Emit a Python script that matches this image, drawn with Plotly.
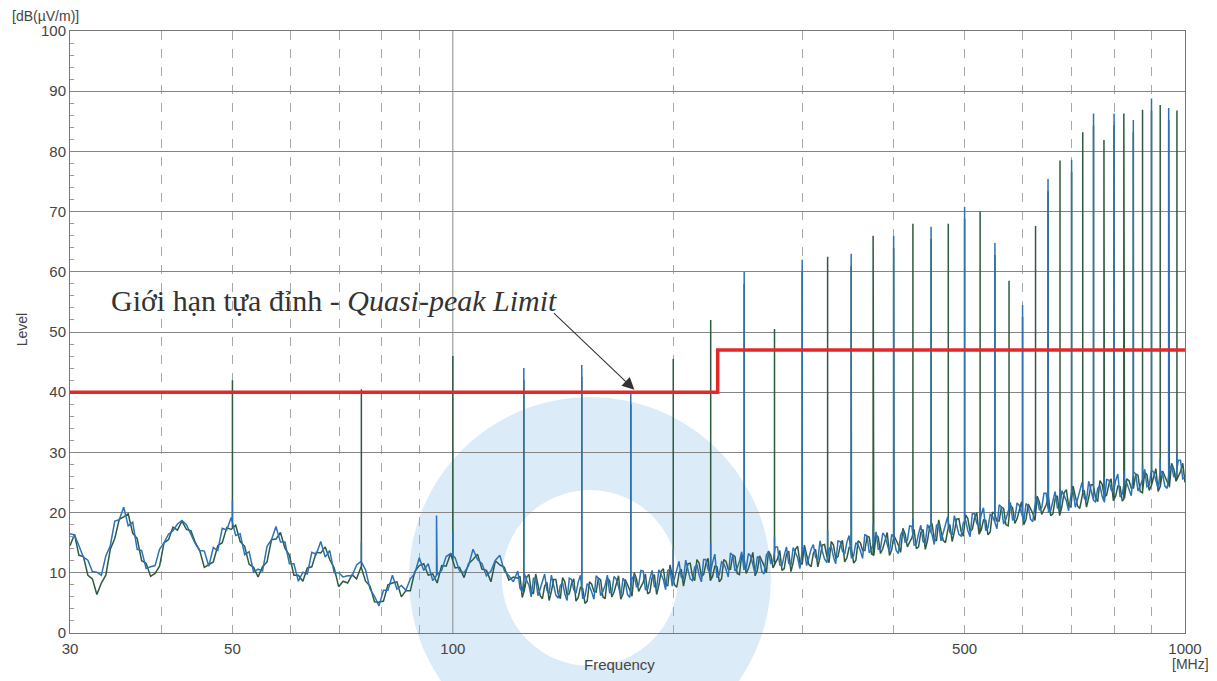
import numpy as np
import plotly.graph_objects as go

# ---------------- data ----------------
# Noise floor, read at 250 log-spaced sweep points from 30 MHz to 1000 MHz
blue_levels = [
    16.5, 16.3, 14.5, 12.6, 12.1, 10.2, 10.1, 9.6, 12.8, 14.5,
    18.6, 18.8, 20.9, 17.8, 18.4, 13.9, 13.7, 10.7, 11.0, 11.2,
    13.9, 15.0, 16.4, 17.0, 18.1, 18.7, 18.0, 16.3, 14.8, 13.7,
    13.6, 11.1, 14.2, 13.7, 17.4, 17.1, 19.2, 16.2, 16.5, 13.0,
    13.5, 10.1, 10.6, 10.3, 14.4, 15.5, 17.7, 15.1, 15.1, 11.5,
    11.5, 8.6, 10.1, 9.8, 13.4, 13.1, 15.2, 12.6, 13.7, 10.0,
    10.0, 9.3, 9.5, 9.5, 11.3, 11.9, 10.5, 7.3, 6.1, 4.5,
    7.1, 7.1, 9.6, 7.3, 7.9, 7.1, 9.0, 9.9, 12.5, 10.4,
    11.5, 8.7, 9.7, 10.4, 12.7, 13.2, 12.5, 10.3, 10.0, 11.2,
    13.9, 12.2, 11.5, 9.5, 10.3, 12.1, 12.9, 10.3, 9.5, 8.5,
    10.3, 6.9, 8.7, 6.0, 9.1, 7.3, 9.8, 6.5, 7.9, 5.8,
    8.4, 5.4, 8.9, 6.6, 9.6, 6.1, 7.8, 5.6, 9.1, 6.9,
    9.6, 6.8, 8.9, 6.1, 8.5, 5.9, 9.6, 8.0, 10.3, 7.3,
    10.4, 7.4, 9.6, 7.2, 10.6, 9.1, 11.9, 8.9, 10.5, 8.7,
    11.4, 8.5, 12.2, 10.0, 13.1, 9.7, 11.5, 9.3, 12.9, 10.8,
    13.5, 10.7, 12.8, 9.9, 12.4, 9.8, 13.5, 11.9, 14.3, 11.2,
    14.3, 11.2, 13.3, 10.7, 13.9, 12.5, 14.7, 12.1, 13.6, 11.7,
    14.4, 11.5, 15.2, 13.1, 16.2, 12.8, 14.6, 12.4, 16.1, 14.0,
    16.8, 14.0, 16.1, 13.4, 15.8, 13.2, 17.0, 15.4, 17.7, 14.8,
    17.9, 14.9, 17.1, 14.7, 18.1, 16.5, 19.3, 16.3, 17.9, 16.1,
    18.8, 16.0, 19.8, 17.7, 20.8, 17.5, 19.4, 17.3, 20.9, 18.9,
    21.7, 19.0, 21.2, 18.5, 21.0, 18.5, 22.3, 20.8, 23.2, 20.3,
    23.5, 20.5, 22.7, 20.3, 23.7, 22.2, 25.0, 22.0, 23.6, 21.8,
    24.5, 21.7, 25.4, 23.3, 26.4, 23.1, 24.9, 22.8, 26.4, 24.4,
    27.2, 24.5, 26.7, 24.0, 26.5, 24.0, 27.8, 26.3, 28.7, 25.8,
]
green_levels = [
    14.5, 16.4, 12.9, 12.7, 9.6, 9.0, 6.4, 8.3, 9.6, 13.9,
    15.7, 18.9, 19.3, 19.8, 16.6, 15.7, 12.0, 11.6, 9.4, 9.9,
    11.1, 15.0, 15.5, 17.6, 17.1, 18.6, 17.2, 17.0, 15.0, 13.6,
    10.9, 11.4, 11.8, 14.5, 15.0, 17.5, 17.2, 17.9, 15.2, 14.4,
    11.4, 10.9, 9.3, 11.0, 11.8, 15.5, 15.6, 16.7, 14.1, 12.9,
    9.6, 9.6, 8.6, 10.8, 11.0, 13.4, 13.3, 14.3, 12.2, 10.8,
    7.7, 8.6, 8.3, 9.7, 9.0, 11.0, 8.6, 7.8, 5.2, 5.1,
    5.3, 8.0, 8.3, 8.5, 6.0, 7.0, 7.0, 10.2, 11.2, 11.5,
    9.6, 9.8, 8.3, 11.2, 11.1, 13.2, 10.8, 10.9, 9.2, 11.5,
    12.2, 13.1, 10.6, 10.4, 8.5, 12.0, 11.3, 10.9, 8.8, 9.3,
    9.1, 5.9, 9.3, 6.9, 9.8, 6.2, 7.8, 5.4, 8.9, 6.6,
    9.2, 6.3, 8.2, 5.3, 7.6, 4.9, 8.5, 6.9, 9.1, 6.0,
    9.1, 6.0, 8.1, 5.6, 8.9, 7.3, 10.0, 6.9, 8.4, 6.5,
    9.2, 6.4, 10.2, 8.1, 11.3, 8.0, 9.9, 7.8, 11.5, 9.5,
    12.2, 9.4, 11.5, 8.7, 11.1, 8.5, 12.2, 10.6, 13.0, 9.9,
    13.0, 9.9, 12.0, 9.5, 12.8, 11.2, 13.6, 10.8, 12.3, 10.4,
    13.1, 10.2, 13.9, 11.7, 14.6, 11.4, 13.2, 11.0, 14.6, 12.5,
    15.2, 12.4, 14.5, 11.8, 14.2, 11.6, 15.3, 13.7, 16.1, 13.1,
    16.3, 13.2, 15.3, 12.9, 16.2, 14.6, 17.4, 14.3, 15.8, 14.0,
    16.7, 13.9, 17.7, 15.6, 18.8, 15.4, 17.3, 15.2, 18.9, 16.9,
    19.6, 16.9, 19.1, 16.4, 18.8, 16.3, 20.1, 18.6, 20.9, 18.0,
    21.2, 18.2, 20.4, 18.0, 21.4, 19.9, 22.7, 19.7, 21.3, 19.5,
    22.3, 19.5, 23.3, 21.2, 24.4, 21.1, 23.0, 20.9, 24.6, 22.6,
    25.3, 22.6, 24.7, 22.0, 24.4, 21.9, 25.6, 24.1, 26.4, 23.5,
    26.7, 23.7, 25.9, 23.5, 26.9, 25.4, 28.2, 25.2, 26.8, 25.0,
]
# Extra readings between sweep points 100..249 (125 MHz upward, denser band)
blue_mid_levels = [
    7.4, 9.8, 7.9, 9.1, 6.2, 8.6, 7.1, 9.6, 6.3, 7.9,
    6.5, 9.1, 7.2, 8.5, 5.7, 8.2, 6.8, 9.5, 6.2, 7.9,
    6.7, 9.4, 7.7, 9.1, 6.4, 9.0, 7.7, 10.4, 7.2, 9.0,
    7.7, 10.5, 8.9, 10.4, 7.8, 10.5, 9.3, 12.1, 9.0, 10.9,
    9.6, 12.2, 10.5, 11.7, 9.2, 11.8, 10.6, 13.3, 10.3, 11.9,
    10.6, 13.2, 11.5, 12.7, 10.2, 12.9, 11.6, 14.3, 11.3, 12.9,
    11.6, 14.2, 12.5, 13.7, 11.2, 13.9, 12.6, 15.3, 12.3, 13.9,
    12.6, 15.3, 13.6, 15.1, 12.4, 15.0, 13.7, 16.4, 13.3, 15.1,
    13.9, 16.6, 14.9, 16.4, 13.7, 16.3, 15.1, 17.8, 14.6, 16.5,
    15.2, 18.0, 16.4, 17.9, 15.3, 17.9, 16.7, 19.5, 16.4, 18.3,
    17.0, 19.8, 18.2, 19.7, 17.0, 19.7, 18.5, 21.3, 18.1, 20.0,
    18.8, 21.6, 20.0, 21.5, 18.9, 21.6, 20.4, 23.2, 20.1, 22.0,
    20.8, 23.6, 22.0, 23.5, 20.9, 23.6, 22.4, 25.2, 22.1, 24.0,
    22.7, 25.5, 23.8, 25.3, 22.6, 25.3, 24.0, 26.8, 23.6, 25.5,
    24.3, 27.1, 25.5, 27.0, 24.4, 27.1, 25.9, 28.7, 25.6,
]
green_mid_levels = [
    9.4, 7.2, 9.7, 6.5, 7.9, 5.7, 8.4, 6.9, 8.9, 5.7,
    8.5, 6.5, 9.0, 5.9, 7.4, 5.3, 8.1, 6.8, 8.8, 5.7,
    8.7, 6.8, 9.5, 6.5, 8.1, 6.1, 9.0, 7.7, 9.8, 6.8,
    9.7, 7.9, 10.7, 7.8, 9.5, 7.6, 10.6, 9.4, 11.6, 8.7,
    11.6, 9.7, 12.4, 9.4, 11.0, 9.0, 11.9, 10.6, 12.7, 9.7,
    12.6, 10.7, 13.4, 10.4, 12.0, 10.0, 12.9, 11.6, 13.7, 10.7,
    13.6, 11.7, 14.4, 11.4, 13.0, 11.0, 13.9, 12.6, 14.7, 11.7,
    14.6, 12.7, 15.4, 12.5, 14.1, 12.1, 15.0, 13.7, 15.9, 12.9,
    15.9, 14.0, 16.7, 13.8, 15.4, 13.4, 16.4, 15.1, 17.2, 14.3,
    17.2, 15.4, 18.2, 15.3, 17.0, 15.0, 18.0, 16.8, 19.0, 16.1,
    19.0, 17.2, 20.0, 17.1, 18.7, 16.8, 19.8, 18.6, 20.7, 17.8,
    20.8, 19.0, 21.8, 18.9, 20.6, 18.7, 21.7, 20.5, 22.7, 19.8,
    22.8, 21.0, 23.8, 20.9, 22.6, 20.7, 23.7, 22.5, 24.7, 21.8,
    24.7, 22.9, 25.6, 22.7, 24.3, 22.4, 25.3, 24.1, 26.2, 23.3,
    26.3, 24.5, 27.3, 24.4, 26.1, 24.2, 27.2, 26.0, 28.2,
]

# Harmonic spikes (MHz) and their peak levels for each trace
spike_freqs = [50, 75, 100, 125, 150, 175, 200, 225, 250, 275, 300, 325, 350,
               375, 400, 425, 450, 475, 500, 525, 550, 575, 600, 625, 650, 675,
               700, 725, 750, 775, 800, 825, 850, 875, 900, 925, 950, 975]
green_spike_peaks = [42, 40.5, 46, 42, 42.5, 38, 45.5, 52, 58, 50.5, 60, 62.5, 61,
                     66, 64, 68, 65.5, 68, 68.8, 70, 62.8, 58.5, 52.5, 67.6, 73.4, 78.5,
                     76.6, 83.2, 84.3, 81.9, 84.3, 86.3, 83.2, 86.9, 86.8, 87.7, 85.2, 86.8]
blue_spike_peaks = [22, 15, 17, 44, 44.5, 40, 14, 15, 60, 16, 62, 17, 63,
                    18, 66, 19, 67.5, 19, 70.8, 21, 64.8, 22, 54.5, 23, 75.4, 24,
                    78.6, 25, 86.3, 26, 86.3, 27, 85.2, 28, 88.8, 29, 87.2, 30]
extra_blue_spike_freqs = [95]
extra_blue_spike_peaks = [19.5]

# Quasi-peak limit (step at 230 MHz)
limit_freqs = [30, 230, 230, 1000]
limit_levels = [40, 40, 47, 47]

x_tick_vals = [30, 50, 100, 500, 1000]
x_dash_grid = [40, 50, 60, 70, 80, 90, 200, 300, 400, 500, 600, 700, 800, 900]

# ---------------- build traces ----------------
sweep = np.geomspace(30, 1000, len(blue_levels))
mid_sweep = np.sqrt(sweep[100:-1] * sweep[101:])


def with_spikes(levels, mids, sf, sp):
    fx = np.concatenate([sweep, mid_sweep])
    fy = np.concatenate([np.asarray(levels, float), np.asarray(mids, float)])
    order = np.argsort(fx)
    fx, fy = fx[order], fy[order]
    floor = np.interp(np.log10(sf), np.log10(fx), fy)
    events = [(f, 0, (lv,)) for f, lv in zip(fx, fy)]
    events += [(f, 1, (fl, pk, fl)) for f, fl, pk in zip(sf, floor, sp)]
    events.sort(key=lambda e: (e[0], e[1]))
    xs, ys = [], []
    for f, _, vals in events:
        for v in vals:
            xs.append(f)
            ys.append(v)
    return xs, ys


gx, gy = with_spikes(green_levels, green_mid_levels, spike_freqs, green_spike_peaks)
bx, by = with_spikes(blue_levels, blue_mid_levels,
                     spike_freqs + extra_blue_spike_freqs,
                     blue_spike_peaks + extra_blue_spike_peaks)

fig = go.Figure()
fig.add_trace(go.Scatter(x=gx, y=gy, mode="lines",
                         line=dict(color="#2e5a40", width=1.5), showlegend=False))
fig.add_trace(go.Scatter(x=bx, y=by, mode="lines",
                         line=dict(color="#2c72b4", width=1.5), showlegend=False))
fig.add_trace(go.Scatter(x=limit_freqs, y=limit_levels, mode="lines",
                         line=dict(color="#e22828", width=3.5), showlegend=False))

# ---------------- watermark (light logo ring) ----------------
fig.add_shape(type="circle", xref="paper", yref="paper", layer="below",
              x0=0.304, x1=0.6287, y0=-0.2093, y1=0.392,
              fillcolor="rgba(200,225,245,0.65)", line=dict(width=0))
fig.add_shape(type="circle", xref="paper", yref="paper", layer="below",
              x0=0.3874, x1=0.5453, y0=-0.0548, y1=0.2375,
              fillcolor="white", line=dict(width=0))

# solid decade gridline at 100 MHz
fig.add_shape(type="line", xref="x", yref="y", x0=100, x1=100, y0=0, y1=100,
              layer="below", line=dict(color="#8a8a8a", width=1))

tick_font = dict(family="Liberation Sans, Arial, sans-serif", size=15, color="#444")

# the page body adds an 8 px offset; figure size and margins compensate for it
fig.update_layout(
    width=1209, height=673,
    margin=dict(l=62, r=32, t=23, b=48),
    paper_bgcolor="white", plot_bgcolor="rgba(0,0,0,0)",
    xaxis=dict(
        type="log", range=[np.log10(30), np.log10(1000)],
        tickmode="array", tickvals=x_tick_vals,
        ticktext=[str(v) for v in x_tick_vals],
        showgrid=False, zeroline=False,
        showline=True, linecolor="#777", linewidth=1, mirror=True,
        ticks="", tickfont=tick_font, ticklabelstandoff=2,
        minor=dict(tickmode="array", tickvals=x_dash_grid, showgrid=True,
                   gridcolor="#a8a8a8", griddash="dash", gridwidth=1, ticks=""),
    ),
    yaxis=dict(
        range=[0, 100], tickmode="linear", dtick=10,
        showgrid=True, gridcolor="#858585", gridwidth=1, zeroline=False,
        showline=True, linecolor="#777", linewidth=1, mirror=True,
        ticks="", tickfont=tick_font,
        minor=dict(dtick=2, ticks="inside", ticklen=4, tickcolor="#999",
                   showgrid=False),
    ),
)

ann_font = dict(family="Liberation Sans, Arial, sans-serif", size=14, color="#444")
fig.add_annotation(text="[dB(µV/m)]", xref="paper", yref="paper",
                   x=-0.0538, y=1.0257, xanchor="left", yanchor="middle",
                   showarrow=False, font=dict(ann_font, size=14))
fig.add_annotation(text="Level", xref="paper", yref="paper",
                   x=-0.043, y=0.503, textangle=-90, xanchor="center",
                   yanchor="middle", showarrow=False, font=ann_font)
fig.add_annotation(text="Frequency", xref="paper", yref="paper",
                   x=0.493, y=-0.053, xanchor="center", yanchor="middle",
                   showarrow=False, font=dict(ann_font, size=15))
fig.add_annotation(text="[MHz]", xref="paper", yref="paper",
                   x=1.0045, y=-0.0515, xanchor="center", yanchor="middle",
                   showarrow=False, font=ann_font)

# Limit label with arrow
fig.add_annotation(text="Giới hạn tựa đỉnh - <i>Quasi-peak Limit</i>",
                   xref="paper", yref="paper", x=0.035, y=0.552,
                   xanchor="left", yanchor="middle", showarrow=False,
                   font=dict(family="Liberation Serif, Times New Roman, serif",
                             size=30, color="#333"))
fig.add_annotation(text="", xref="x", yref="y", x=np.log10(177), y=40.4,
                   ax=-82, ay=-78, showarrow=True, arrowhead=2,
                   arrowsize=2.2, arrowwidth=1.1, arrowcolor="#333")

fig.write_html("out.html")
